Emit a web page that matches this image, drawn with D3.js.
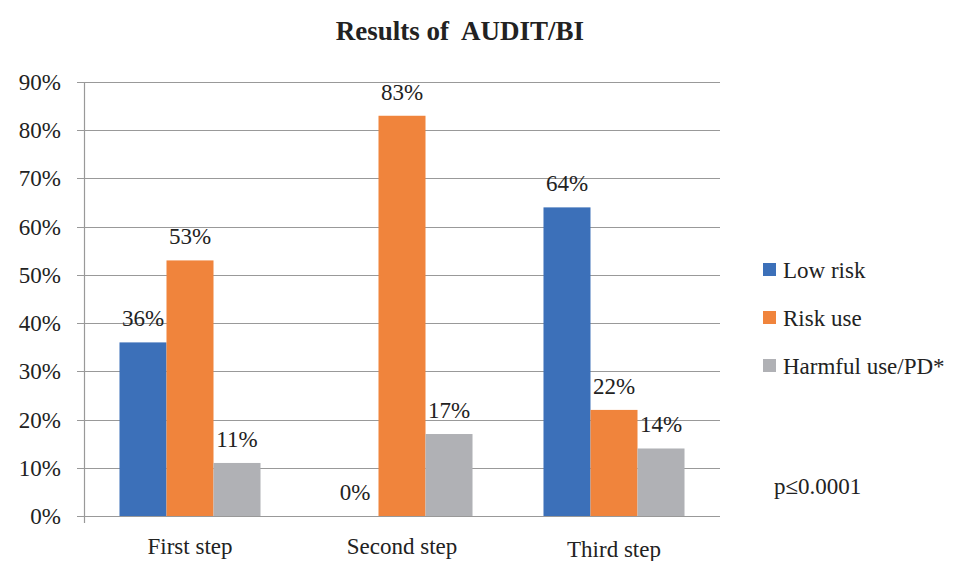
<!DOCTYPE html>
<html>
<head>
<meta charset="utf-8">
<script src="https://cdn.jsdelivr.net/npm/d3@7"></script>
<style>
  html, body { margin: 0; padding: 0; background: #fff; }
  svg { display: block; }
  svg text { font-family: "Liberation Serif", monospace !important; }
</style>
</head>
<body>
<svg id="chart" width="974" height="561"></svg>
<script>
// Chart data
const categories = ["First step", "Second step", "Third step"];
const seriesNames = ["Low risk", "Risk use", "Harmful use/PD*"];
const lowRisk = [36, 0, 64];
const riskUse = [53, 83, 22];
const harmfulUse = [11, 17, 14];
const yTicks = [0, 10, 20, 30, 40, 50, 60, 70, 80, 90];
const colors = ["#3c70b9", "#f0843c", "#b0b1b5"];

const seriesValues = [lowRisk, riskUse, harmfulUse];
const FONT = '"Liberation Serif", monospace';

const svg = d3.select("#chart");
const margin = { left: 84, right: 254, top: 82, bottom: 45 };
const W = 974, H = 561;
const x0 = margin.left, x1 = W - margin.right;
const yTop = margin.top, yBottom = H - margin.bottom;

const x = d3.scaleBand().domain(categories).range([x0, x1]).paddingInner(0).paddingOuter(0);
const xs = d3.scaleBand().domain(seriesNames).range([0, x.bandwidth()]).paddingInner(0).paddingOuter(0.755);
const y = d3.scaleLinear().domain([0, 90]).range([yBottom, yTop]);

function label(sel, size) {
  return sel.style("font-family", FONT, "important").style("font-size", size + "px").style("fill", "#222");
}

// Title
label(svg.append("text"), 27)
  .attr("x", 460).attr("y", 40)
  .attr("text-anchor", "middle")
  .style("font-weight", "bold")
  .style("white-space", "pre")
  .text("Results of  AUDIT/BI");

// Horizontal gridlines with left tick marks
svg.append("g").selectAll("line").data(yTicks).join("line")
  .attr("x1", x0 - 7).attr("x2", x1)
  .attr("y1", d => Math.round(y(d)) + 0.5).attr("y2", d => Math.round(y(d)) + 0.5)
  .attr("stroke", "#999").attr("stroke-width", 1.2);

// Y-axis labels
label(svg.append("g").selectAll("text").data(yTicks).join("text"), 23)
  .attr("x", 61).attr("y", d => y(d) + 8)
  .attr("text-anchor", "end")
  .text(d => d + "%");

// Vertical axis line
svg.append("line")
  .attr("x1", x0 + 0.5).attr("x2", x0 + 0.5)
  .attr("y1", yTop).attr("y2", yBottom + 7)
  .attr("stroke", "#999").attr("stroke-width", 1.2);

// Bars and value labels
const groups = svg.append("g").selectAll("g").data(categories).join("g")
  .attr("transform", c => `translate(${x(c)},0)`);

groups.each(function(c, ci) {
  const g = d3.select(this);
  seriesNames.forEach((s, si) => {
    const v = seriesValues[si][ci];
    if (v > 0) {
      g.append("rect")
        .attr("x", xs(s)).attr("width", xs.bandwidth())
        .attr("y", y(v)).attr("height", y(0) - y(v))
        .attr("fill", colors[si]);
    }
  });
  seriesNames.forEach((s, si) => {
    const v = seriesValues[si][ci];
    label(g.append("text"), 23)
      .attr("x", xs(s) + xs.bandwidth() / 2)
      .attr("y", y(v) - 16)
      .attr("text-anchor", "middle")
      .text(v + "%");
  });
});

// Category labels
label(svg.append("g").selectAll("text").data(categories).join("text"), 23)
  .attr("x", c => x(c) + x.bandwidth() / 2)
  .attr("y", (c, i) => i === 2 ? 557 : 554)
  .attr("text-anchor", "middle")
  .text(c => c);

// Legend
const legend = svg.append("g");
seriesNames.forEach((s, i) => {
  const ly = 270 + i * 48;
  legend.append("rect")
    .attr("x", 763).attr("y", ly - 7).attr("width", 13).attr("height", 13)
    .attr("fill", colors[i]);
  label(legend.append("text"), 23)
    .attr("x", 783).attr("y", ly + 8)
    .text(s);
});

// Significance note
label(svg.append("text"), 23)
  .attr("x", 774).attr("y", 494)
  .text("p≤0.0001");
</script>
</body>
</html>
